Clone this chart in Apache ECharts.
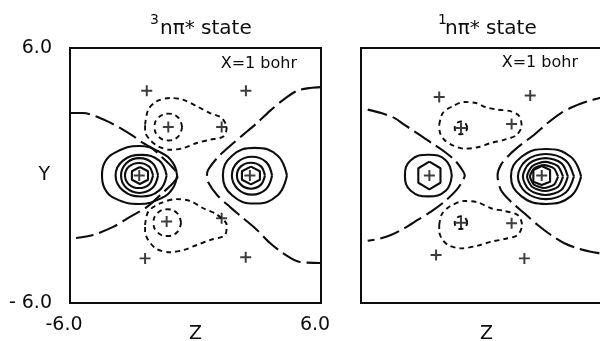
<!DOCTYPE html>
<html>
<head>
<meta charset="utf-8">
<script src="https://cdn.jsdelivr.net/npm/echarts@6/dist/echarts.min.js"></script>
<style>
  html, body { margin: 0; padding: 0; background: #fff; }
  #chart { width: 600px; height: 341px; }
</style>
</head>
<body>
<div id="chart"></div>
<script>
// contour lines, coordinates in bohr (Z, Y)
var AXIS_MIN = -6, AXIS_MAX = 6;

// ---- 3 n-pi* panel ----
var tripletLeftAtom1 = [[-0.88,0],[-1.08,0.59],[-1.62,1.06],[-2.7,1.39],[-3.8,1.1],[-4.35,0.6],[-4.47,0],[-4.35,-0.6],[-3.8,-1.1],[-2.7,-1.34],[-1.62,-1.06],[-1.08,-0.59],[-0.88,0]];
var tripletLeftAtom2 = [[-1.38,0],[-1.73,0.7],[-2.6,0.97],[-3.47,0.7],[-3.82,0],[-3.47,-0.7],[-2.6,-0.99],[-1.73,-0.7],[-1.38,0]];
var tripletLeftAtom3 = [[-1.79,0],[-2.05,0.58],[-2.68,0.82],[-3.31,0.58],[-3.56,0],[-3.31,-0.58],[-2.68,-0.82],[-2.05,-0.58],[-1.79,0]];
var tripletLeftAtom4 = [[-2.03,0],[-2.22,0.42],[-2.7,0.59],[-3.18,0.42],[-3.37,0],[-3.18,-0.42],[-2.7,-0.59],[-2.22,-0.42],[-2.03,0]];
var tripletLeftAtom5 = [[-2.66,0.4],[-2.27,0.2],[-2.27,-0.2],[-2.66,-0.4],[-3.04,-0.2],[-3.04,0.2],[-2.66,0.4]];
var tripletRightAtom1 = [[4.37,0],[3.93,0.93],[2.84,1.3],[1.75,0.93],[1.31,0],[1.75,-0.93],[2.84,-1.32],[3.93,-0.93],[4.37,0]];
var tripletRightAtom2 = [[3.66,0],[3.38,0.63],[2.7,0.88],[2.02,0.63],[1.74,0],[2.02,-0.63],[2.7,-0.9],[3.38,-0.63],[3.66,0]];
var tripletRightAtom3 = [[3.32,0],[3.13,0.43],[2.65,0.6],[2.17,0.43],[1.98,0],[2.17,-0.43],[2.65,-0.62],[3.13,-0.43],[3.32,0]];
var tripletRightAtom4 = [[2.65,0.42],[3.08,0.2],[3.08,-0.2],[2.65,-0.42],[2.22,-0.2],[2.22,0.2],[2.65,0.42]];
var tripletNodeLeft = [[-6,2.94],[-5.38,2.94],[-4.8,2.8],[-4.23,2.56],[-3.61,2.24],[-2.99,1.86],[-2.51,1.53],[-2.08,1.29],[-1.6,0.86],[-1.12,0.4],[-0.84,0],[-1.12,-0.4],[-1.6,-0.84],[-2.32,-1.48],[-3.13,-1.95],[-3.94,-2.42],[-4.9,-2.8],[-5.71,-2.94]];
var tripletNodeRight = [[6,4.16],[5.47,4.12],[4.85,3.98],[4.18,3.55],[3.56,3.04],[2.94,2.47],[2.27,1.91],[1.65,1.39],[1.03,0.82],[0.6,0.26],[0.55,0],[0.6,-0.31],[1.03,-0.92],[1.65,-1.48],[2.27,-2.0],[2.94,-2.56],[3.56,-3.18],[4.18,-3.65],[4.99,-4.07],[6,-4.12]];
var tripletLobeUp = [[-2.41,2.39],[-2.26,3.1],[-1.86,3.49],[-1.22,3.65],[-0.6,3.57],[0.06,3.26],[0.69,2.94],[1.25,2.71],[1.49,2.24],[1.33,1.84],[0.69,1.68],[0.06,1.53],[-0.58,1.29],[-1.22,1.21],[-1.78,1.37],[-2.18,1.68],[-2.41,2.08],[-2.41,2.39]];
var tripletLobeDown = [[-2.41,-2.33],[-2.26,-1.7],[-1.7,-1.31],[-0.9,-1.11],[-0.26,-1.2],[0.37,-1.54],[1.01,-1.83],[1.49,-2.33],[1.41,-2.8],[0.69,-3.04],[0.06,-3.27],[-0.58,-3.51],[-1.22,-3.61],[-1.86,-3.46],[-2.26,-3.04],[-2.41,-2.64],[-2.41,-2.33]];
var tripletCoreUp = [[-0.64,2.28],[-0.83,2.73],[-1.3,2.91],[-1.77,2.73],[-1.96,2.28],[-1.77,1.83],[-1.3,1.65],[-0.83,1.83],[-0.64,2.28]];
var tripletCoreDown = [[-0.69,-2.22],[-0.88,-1.77],[-1.35,-1.59],[-1.82,-1.77],[-2.01,-2.22],[-1.82,-2.67],[-1.35,-2.85],[-0.88,-2.67],[-0.69,-2.22]];
var tripletCrosses = [[-2.69,0],[2.6,0],[-1.3,2.28],[1.25,2.28],[-1.38,-2.17],[1.25,-2.01],[-2.33,3.99],[2.41,3.99],[-2.41,-3.9],[2.4,-3.85]];

// ---- 1 n-pi* panel ----
var singletLeftAtom1 = [[-1.66,0],[-1.95,0.72],[-2.78,0.98],[-3.62,0.72],[-3.9,0],[-3.62,-0.72],[-2.78,-0.98],[-1.95,-0.72],[-1.66,0]];
var singletLeftAtom2 = [[-2.73,0.65],[-2.2,0.34],[-2.2,-0.34],[-2.73,-0.65],[-3.26,-0.34],[-3.26,0.34],[-2.73,0.65]];
var singletRightAtom1 = [[4.52,-0.05],[4.04,0.87],[2.85,1.25],[1.66,0.87],[1.17,-0.05],[1.66,-0.97],[2.85,-1.34],[4.04,-0.97],[4.52,-0.05]];
var singletRightAtom2 = [[4.18,-0.05],[3.79,0.7],[2.84,1.01],[1.89,0.7],[1.5,-0.05],[1.89,-0.8],[2.84,-1.11],[3.79,-0.8],[4.18,-0.05]];
var singletRightAtom3 = [[3.89,-0.05],[3.59,0.57],[2.82,0.82],[2.05,0.57],[1.74,-0.05],[2.05,-0.67],[2.82,-0.92],[3.59,-0.67],[3.89,-0.05]];
var singletRightAtom4 = [[3.66,-0.05],[3.41,0.44],[2.8,0.64],[2.19,0.44],[1.94,-0.05],[2.19,-0.54],[2.8,-0.73],[3.41,-0.54],[3.66,-0.05]];
var singletRightAtom5 = [[3.42,-0.05],[3.23,0.33],[2.75,0.49],[2.27,0.33],[2.08,-0.05],[2.27,-0.43],[2.75,-0.59],[3.23,-0.43],[3.42,-0.05]];
var singletRightAtom6 = [[2.64,0.45],[3.04,0.26],[3.04,-0.29],[2.64,-0.45],[2.24,-0.29],[2.24,0.26],[2.64,0.45]];
var singletNodeLeft = [[-5.68,3.1],[-5.04,2.94],[-4.41,2.71],[-3.93,2.39],[-3.45,2.08],[-2.97,1.76],[-2.5,1.45],[-2.02,1.13],[-1.54,0.74],[-1.22,0.35],[-1.04,0],[-1.2,-0.35],[-1.45,-0.7],[-2.02,-1.24],[-2.65,-1.7],[-3.29,-2.09],[-3.93,-2.48],[-4.57,-2.8],[-5.2,-2.99],[-5.68,-3.07]];
var singletNodeRight = [[6,3.8],[5.42,3.65],[4.84,3.49],[4.2,3.26],[3.56,2.94],[2.92,2.47],[2.28,1.92],[1.65,1.45],[1.09,0.97],[0.69,0.5],[0.53,0],[0.69,-0.68],[1.17,-1.23],[1.81,-1.78],[2.45,-2.33],[3.08,-2.8],[3.72,-3.19],[4.36,-3.43],[4.99,-3.59],[5.42,-3.66],[6,-3.75]];
var singletLobeUp = [[-2.26,2.39],[-2.09,2.94],[-1.62,3.26],[-1.06,3.46],[-0.5,3.41],[-0.02,3.21],[0.53,3.1],[1.17,3.02],[1.57,2.79],[1.68,2.32],[1.41,1.89],[0.85,1.68],[0.21,1.53],[-0.42,1.33],[-1.06,1.26],[-1.62,1.42],[-2.02,1.68],[-2.22,2.0],[-2.26,2.39]];
var singletLobeDown = [[-2.26,-2.33],[-2.14,-1.83],[-1.78,-1.47],[-1.06,-1.2],[-0.42,-1.26],[0.21,-1.54],[0.85,-1.67],[1.49,-1.86],[1.7,-2.33],[1.49,-2.8],[0.85,-2.99],[0.21,-3.12],[-0.42,-3.3],[-1.22,-3.43],[-1.78,-3.3],[-2.09,-3.04],[-2.26,-2.64],[-2.26,-2.33]];
var singletCoreUp = [[-0.92,2.24],[-1.01,2.45],[-1.22,2.54],[-1.43,2.45],[-1.52,2.24],[-1.43,2.03],[-1.22,1.94],[-1.01,2.03],[-0.92,2.24]];
var singletCoreDown = [[-0.92,-2.22],[-1.01,-2.01],[-1.22,-1.92],[-1.43,-2.01],[-1.52,-2.22],[-1.43,-2.43],[-1.22,-2.52],[-1.01,-2.43],[-0.92,-2.22]];
var singletCrosses = [[-2.73,0],[2.64,0],[-1.22,2.24],[1.2,2.42],[-1.22,-2.22],[1.2,-2.25],[-2.26,3.69],[2.09,3.77],[-2.41,-3.74],[1.81,-3.9]];

var INK = '#0d0d0d';
var FONT = 'DejaVu Sans';
var CROSS = 'path://M4.1,0H5.9V4.1H10V5.9H5.9V10H4.1V5.9H0V4.1H4.1Z';

var series = [];
function addLine(panel, pts, kind, smooth) {
    var dash = 'solid', width = 2.1;
    if (kind === 'node') { dash = [20, 6]; }
    if (kind === 'lobe') { dash = [5, 4]; width = 1.9; }
    series.push({
        type: 'line', xAxisIndex: panel, yAxisIndex: panel,
        data: pts, symbol: 'none', smooth: smooth,
        lineStyle: { color: INK, width: width, type: dash },
        silent: true, z: 2
    });
}
function addCrosses(panel, pts) {
    series.push({
        type: 'scatter', xAxisIndex: panel, yAxisIndex: panel,
        data: pts, symbol: CROSS, symbolSize: 11,
        itemStyle: { color: INK }, silent: true, z: 3
    });
}

addLine(0, tripletLeftAtom1, 'solid', 0.45);
addLine(0, tripletLeftAtom2, 'solid', 0.45);
addLine(0, tripletLeftAtom3, 'solid', 0.4);
addLine(0, tripletLeftAtom4, 'solid', 0.35);
addLine(0, tripletLeftAtom5, 'solid', false);
addLine(0, tripletRightAtom1, 'solid', 0.45);
addLine(0, tripletRightAtom2, 'solid', 0.4);
addLine(0, tripletRightAtom3, 'solid', 0.35);
addLine(0, tripletRightAtom4, 'solid', false);
addLine(0, tripletNodeLeft, 'node', 0.3);
addLine(0, tripletNodeRight, 'node', 0.3);
addLine(0, tripletLobeUp, 'lobe', 0.3);
addLine(0, tripletLobeDown, 'lobe', 0.3);
addLine(0, tripletCoreUp, 'lobe', 0.45);
addLine(0, tripletCoreDown, 'lobe', 0.45);
addCrosses(0, tripletCrosses);

addLine(1, singletLeftAtom1, 'solid', 0.45);
addLine(1, singletLeftAtom2, 'solid', false);
addLine(1, singletRightAtom1, 'solid', 0.45);
addLine(1, singletRightAtom2, 'solid', 0.35);
addLine(1, singletRightAtom3, 'solid', 0.3);
addLine(1, singletRightAtom4, 'solid', 0.25);
addLine(1, singletRightAtom5, 'solid', 0.2);
addLine(1, singletRightAtom6, 'solid', false);
addLine(1, singletNodeLeft, 'node', 0.3);
addLine(1, singletNodeRight, 'node', 0.3);
addLine(1, singletLobeUp, 'lobe', 0.3);
addLine(1, singletLobeDown, 'lobe', 0.3);
addLine(1, singletCoreUp, 'lobe', 0.45);
addLine(1, singletCoreDown, 'lobe', 0.45);
addCrosses(1, singletCrosses);

function makeX(panel, showLabels) {
    return {
        type: 'value', gridIndex: panel, min: AXIS_MIN, max: AXIS_MAX, interval: 12,
        name: 'Z', nameLocation: 'middle', nameGap: 22, nameMoveOverlap: false,
        nameTextStyle: { color: INK, fontSize: 19, fontFamily: FONT },
        axisLine: { show: false }, axisTick: { show: false }, splitLine: { show: false },
        axisLabel: {
            show: showLabels, color: INK, fontSize: 19, fontFamily: FONT, margin: 13,
            padding: [0, 12, 0, 0],
            formatter: function (v) { return v.toFixed(1); }
        }
    };
}
function makeY(panel, showLabels) {
    return {
        type: 'value', gridIndex: panel, min: AXIS_MIN, max: AXIS_MAX, interval: 12,
        name: showLabels ? 'Y' : '', nameLocation: 'middle', nameRotate: 0, nameGap: 20,
        nameMoveOverlap: false,
        nameTextStyle: { color: INK, fontSize: 19, fontFamily: FONT, padding: [10, 0, 0, 0] },
        axisLine: { show: false }, axisTick: { show: false }, splitLine: { show: false },
        axisLabel: {
            show: showLabels, color: INK, fontSize: 19, fontFamily: FONT, margin: 18,
            formatter: function (v) { return (v < 0 ? '- ' : '') + Math.abs(v).toFixed(1); }
        }
    };
}

var chart = echarts.init(document.getElementById('chart'), null, { renderer: 'canvas' });
chart.setOption({
    animation: false,
    backgroundColor: '#fff',
    textStyle: { fontFamily: FONT },
    grid: [
        { left: 70, top: 48, width: 251, height: 255, outerBoundsMode: 'none', containLabel: false,
          show: true, borderColor: INK, borderWidth: 2, backgroundColor: 'transparent' },
        { left: 361, top: 48, width: 251, height: 255, outerBoundsMode: 'none', containLabel: false,
          show: true, borderColor: INK, borderWidth: 2, backgroundColor: 'transparent' }
    ],
    xAxis: [makeX(0, true), makeX(1, false)],
    yAxis: [makeY(0, true), makeY(1, false)],
    graphic: [
        { type: 'text', x: 150, y: 13, style: { text: '3', fontSize: 14, fontFamily: FONT, fill: INK } },
        { type: 'text', x: 160, y: 19, style: { text: 'nπ* state', fontSize: 20, fontFamily: FONT, fill: INK } },
        { type: 'text', x: 438, y: 13, style: { text: '1', fontSize: 14, fontFamily: FONT, fill: INK } },
        { type: 'text', x: 445, y: 19, style: { text: 'nπ* state', fontSize: 20, fontFamily: FONT, fill: INK } },
        { type: 'text', x: 297, y: 56, style: { text: 'X=1 bohr', fontSize: 16, fontFamily: FONT, fill: INK, align: 'right' } },
        { type: 'text', x: 578, y: 55, style: { text: 'X=1 bohr', fontSize: 16, fontFamily: FONT, fill: INK, align: 'right' } }
    ],
    series: series
});
</script>
</body>
</html>
